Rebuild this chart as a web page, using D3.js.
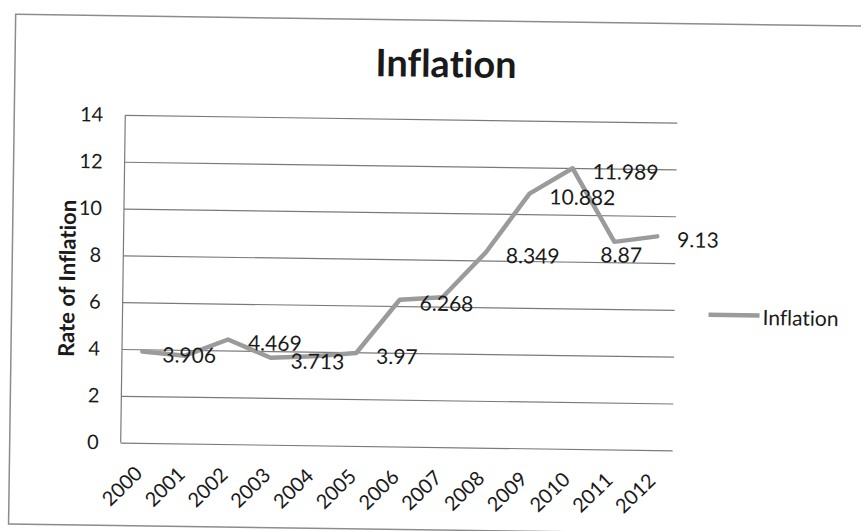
<!DOCTYPE html>
<html>
<head>
<meta charset="utf-8">
<script src="https://cdn.jsdelivr.net/npm/d3@7/dist/d3.min.js"></script>
<style>
  html, body { margin: 0; padding: 0; background: #fff; }
  svg { display: block; }
  text { font-family: Lato, "Open Sans", sans-serif; fill: #1a1a1a;
         font-variant-ligatures: none; font-feature-settings: "liga" 0, "clig" 0; }
</style>
</head>
<body>
<svg id="chart" width="861" height="531"></svg>
<script>
// ---- data ----
const years = ["2000","2001","2002","2003","2004","2005","2006","2007","2008","2009","2010","2011","2012"];
const inflation = [3.906, 3.75, 4.469, 3.713, 3.8, 3.97, 6.268, 6.4, 8.349, 10.882, 11.989, 8.87, 9.13];
const labelShown = [true, false, true, true, false, true, true, false, true, true, true, true, true];
const yTicks = [0, 2, 4, 6, 8, 10, 12, 14];
const chartTitle = "Inflation";
const yAxisTitle = "Rate of Inflation";
const seriesName = "Inflation";

// ---- layout ----
const W = 861, H = 531;
const plot = { left: 122, right: 678, top: 118.8, bottom: 446.5 };
const lineColor = "#9b9b9b";
const gridColor = "#7a7a7a";

const svg = d3.select("#chart");
svg.append("rect").attr("width", W).attr("height", H).attr("fill", "#fff");

// the scanned page is slightly rotated
const g = svg.append("g").attr("transform", "rotate(0.8, 400, 280)");

// outer chart frame
g.append("rect")
  .attr("x", 12).attr("y", 19.7)
  .attr("width", 880).attr("height", 509.7)
  .attr("fill", "none").attr("stroke", "#8c8c8c").attr("stroke-width", 1.5);

const x = d3.scaleBand().domain(years).range([plot.left, plot.right]).padding(0);
const y = d3.scaleLinear().domain([0, 14]).range([plot.bottom, plot.top]);

// y axis with gridlines
const gridW = 675 - 123;
const yAxis = g.append("g")
  .attr("transform", `translate(123,0)`)
  .call(d3.axisLeft(y).tickValues(yTicks).tickSize(-gridW).tickPadding(22).tickFormat(d3.format("d")));
yAxis.select(".domain").remove();
yAxis.selectAll(".tick line").attr("stroke", gridColor).attr("stroke-width", 1.2);
yAxis.selectAll(".tick text")
  .attr("font-size", 20).attr("font-family", "Lato, sans-serif").attr("fill", "#1a1a1a");

// vertical axis line
g.append("line")
  .attr("x1", 123).attr("x2", 123).attr("y1", plot.top).attr("y2", plot.bottom)
  .attr("stroke", gridColor).attr("stroke-width", 1.2);

// x axis labels (rotated)
const xAxis = g.append("g")
  .attr("transform", `translate(0,${plot.bottom})`)
  .call(d3.axisBottom(x).tickSize(0).tickPadding(0));
xAxis.select(".domain").remove();
xAxis.selectAll(".tick text")
  .attr("font-size", 20).attr("font-family", "Lato, sans-serif").attr("fill", "#1a1a1a")
  .attr("text-anchor", "end")
  .attr("dy", null).attr("y", null)
  .attr("transform", "translate(3,32) rotate(-45)");

// line
const line = d3.line()
  .x((d, i) => x(years[i]) + x.bandwidth() / 2)
  .y(d => y(d));
g.append("path")
  .datum(inflation)
  .attr("d", line)
  .attr("fill", "none")
  .attr("stroke", lineColor)
  .attr("stroke-width", 4.5)
  .attr("stroke-linejoin", "round")
  .attr("stroke-linecap", "round");

// data labels (placed to the right of the points; the 2011 one was nudged below)
const labelData = inflation.map((v, i) => ({ v, i })).filter(d => labelShown[d.i]);
g.append("g").selectAll("text")
  .data(labelData)
  .join("text")
  .attr("font-size", 21)
  .attr("dominant-baseline", "central")
  .attr("text-anchor", d => years[d.i] === "2011" ? "middle" : "start")
  .attr("x", d => x(years[d.i]) + x.bandwidth() / 2 + (years[d.i] === "2011" ? 7 : 20))
  .attr("y", d => y(d.v) + (years[d.i] === "2011" ? 12 : 2))
  .text(d => String(d.v));

// title
g.append("text")
  .attr("x", 443).attr("y", 76.5)
  .attr("text-anchor", "middle")
  .attr("font-size", 38).attr("font-weight", "bold")
  .text(chartTitle);

// y axis title
g.append("text")
  .attr("transform", "translate(75,283) rotate(-90)")
  .attr("text-anchor", "middle")
  .attr("font-size", 22).attr("font-weight", "bold")
  .text(yAxisTitle);

// legend
const leg = g.append("g").attr("transform", "translate(709,310.5)");
leg.append("line")
  .attr("x1", 0).attr("x2", 51).attr("y1", 0).attr("y2", 0)
  .attr("stroke", lineColor).attr("stroke-width", 4.5);
leg.append("text")
  .attr("x", 54).attr("y", 1)
  .attr("dominant-baseline", "central")
  .attr("font-size", 21)
  .text(seriesName);
</script>
</body>
</html>
